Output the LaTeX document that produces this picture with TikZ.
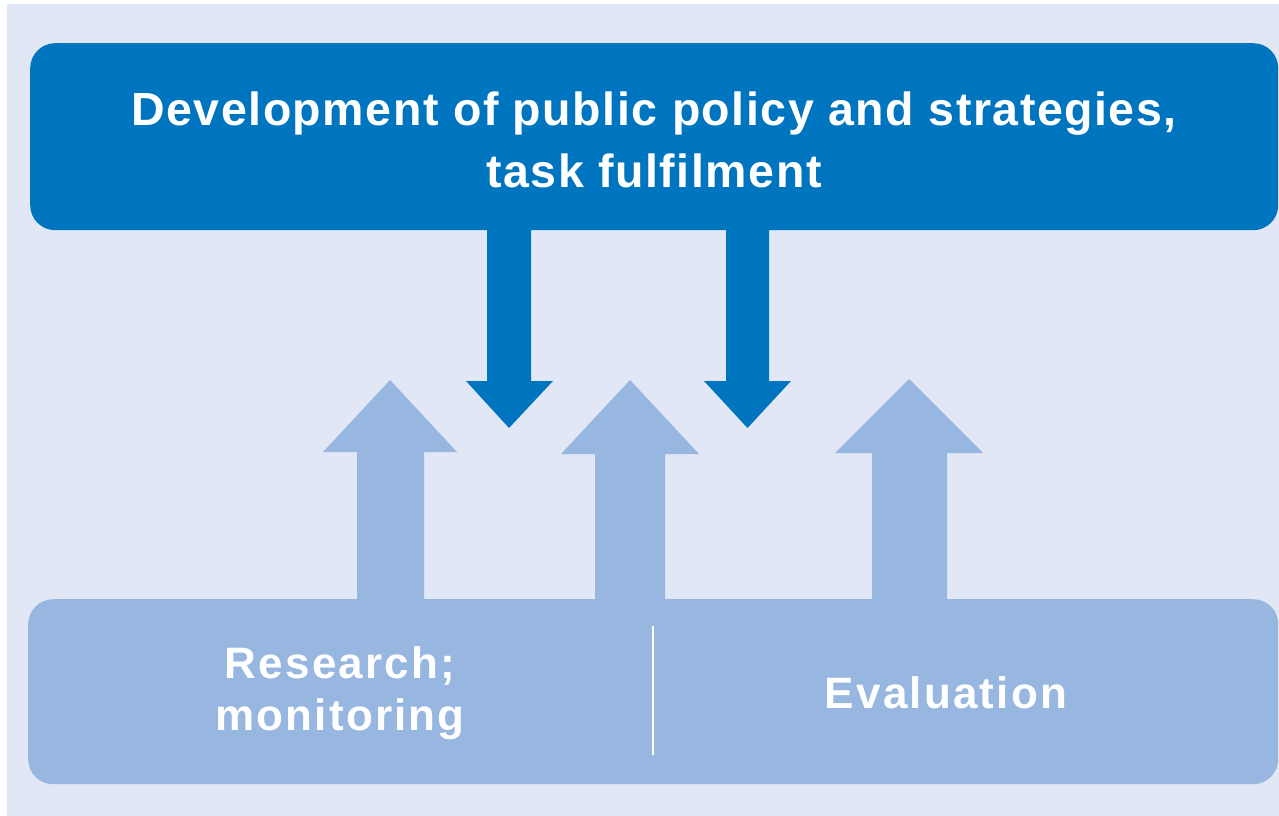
\documentclass[tikz,border=0pt]{standalone}
\usepackage{fontspec}
\setmainfont{Liberation Sans}
\definecolor{bgc}{HTML}{E1E7F5}
\definecolor{darkb}{HTML}{0075BF}
\definecolor{lightb}{HTML}{98B7E0}
\begin{document}
\begin{tikzpicture}[x=1pt,y=-1pt,
  panel/.style={rounded corners=25pt, inner sep=0pt, anchor=north west},
  dnarrow/.style={fill=darkb, draw=none},
  uparrow/.style={fill=lightb, draw=none},
  toptext/.style={text=white, align=center, inner sep=0pt,
    font=\fontsize{46.5}{62}\selectfont\bfseries\addfontfeatures{LetterSpace=3.3}},
  bottext/.style={text=white, align=center, inner sep=0pt,
    font=\fontsize{44}{52}\selectfont\bfseries\addfontfeatures{LetterSpace=5}}]
\useasboundingbox (0,0) rectangle (1279,816);
\fill[white] (0,0) rectangle (1279,816);
\fill[bgc] (7,4) rectangle (1279,816);
% panels
\node[panel, fill=darkb, minimum width=1248pt, minimum height=187pt] (top) at (30,43) {};
\node[panel, fill=lightb, minimum width=1250pt, minimum height=185pt] (bot) at (28,599) {};
% down arrows
\fill[dnarrow] (487,225) -- (487,381) -- (466,381) -- (509,428) -- (553,381) -- (531,381) -- (531,225) -- cycle;
\fill[dnarrow] (726,225) -- (726,381) -- (704,381) -- (747.5,428) -- (791,381) -- (769,381) -- (769,225) -- cycle;
% up arrows
\fill[uparrow] (357,605) -- (357,452) -- (323,452) -- (390,380) -- (457,452) -- (424,452) -- (424,605) -- cycle;
\fill[uparrow] (595,605) -- (595,454) -- (561,454) -- (630,380) -- (699,454) -- (665,454) -- (665,605) -- cycle;
\fill[uparrow] (872,605) -- (872,453) -- (835,453) -- (909,379) -- (983,453) -- (947,453) -- (947,605) -- cycle;
% divider
\coordinate (d1) at (653,626);
\coordinate (d2) at (653,755);
\draw[white, line width=2pt] (d1) -- (d2);
% texts
\node[toptext, anchor=north] (toplabel) at (654,92) {Development of public policy and strategies,\\task fulfilment};
\node[bottext, anchor=north] (research) at (340,646) {Research;\\monitoring};
\node[bottext, anchor=base] (eval) at (946,708) {Evaluation};
\end{tikzpicture}
\end{document}
